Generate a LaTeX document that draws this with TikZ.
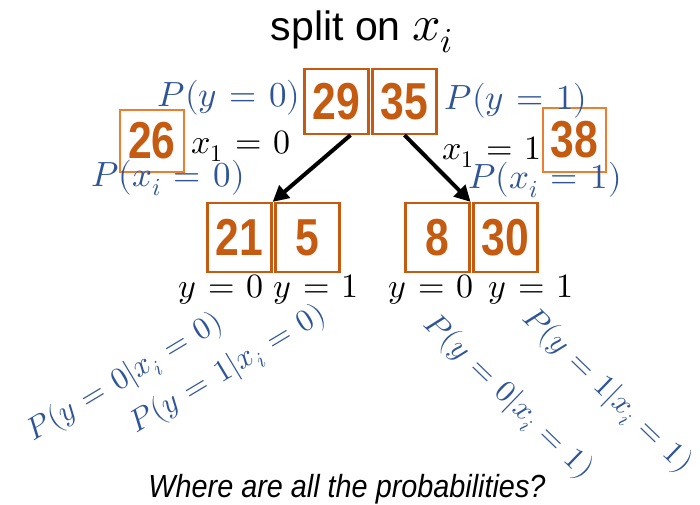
\documentclass[tikz,border=0pt]{standalone}
\usepackage{fontspec}
\usepackage{unicode-math}
\setsansfont{Liberation Sans}
\newfontfamily\narrowsans[FakeStretch=0.82]{Liberation Sans}
\newfontfamily\capsans[FakeStretch=0.9]{Liberation Sans}
\usetikzlibrary{arrows.meta}
\definecolor{blu}{HTML}{2F5597}
\definecolor{org}{HTML}{C55A11}
\definecolor{orgl}{HTML}{ED7D31}
\thickmuskip=6.5mu plus 2mu
\tikzset{
  numbox/.style={draw=org, line width=2.2pt, minimum width=64pt, minimum height=65pt, inner sep=0pt,
    text=org, font=\narrowsans\bfseries\fontsize{52}{58}\selectfont},
  lnumbox/.style={numbox, draw=orgl},
  bluelab/.style={text=blu, inner sep=0pt, font=\fontsize{35}{40}\selectfont},
  rotlab/.style={text=blu, inner sep=0pt, font=\fontsize{31}{36}\selectfont},
  blacklab/.style={text=black, inner sep=0pt, font=\fontsize{34}{40}\selectfont},
  arr/.style={line width=4pt, -{Triangle[length=16pt,width=16pt]}},
}
\begin{document}
\begin{tikzpicture}[x=1pt,y=-1pt]
\useasboundingbox (0,0) rectangle (700,504);
\node[inner sep=0pt, anchor=base, font=\sffamily\fontsize{41}{46}\selectfont] (title) at (362,40) {split on {\fontsize{50}{56}\selectfont$x_i$}};

\node[numbox] (b29) at (336.5,101.5) {29};
\node[numbox] (b35) at (404.5,101.5) {35};
\node[lnumbox, minimum width=64pt, minimum height=62pt] (b26) at (152,141) {26};
\node[lnumbox, minimum width=63pt, minimum height=64pt] (b38) at (574.5,140) {38};

\node[numbox, minimum height=69pt] (b21) at (239.5,237.5) {21};
\node[numbox, minimum height=69pt] (b5) at (307.5,237.5) {5};
\node[numbox, minimum height=69pt] (b8) at (437.5,237.5) {8};
\node[numbox, minimum height=69pt] (b30) at (505.5,237.5) {30};

\node[bluelab] (py0) at (229,98) {$P(y=0)$};
\node[bluelab] (py1) at (516,101) {$P(y=1)$};
\node[blacklab] (x10) at (241,146) {$x_1=0$};
\node[blacklab] (x11) at (492,152) {$x_1=1$};
\node[bluelab] (px0) at (168,178) {$P(x_i=0)$};
\node[bluelab] (px1) at (545,180) {$P(x_i=1)$};

\node[blacklab] (y00) at (221,290) {$y=0$};
\node[blacklab] (y01) at (316,290) {$y=1$};
\node[blacklab] (y10) at (431,290) {$y=0$};
\node[blacklab] (y11) at (531,290) {$y=1$};

\node[rotlab, rotate=31] (c00) at (125,378) {$P(y=0|x_i=0)$};
\node[rotlab, rotate=31] (c10) at (228,370) {$P(y=1|x_i=0)$};
\node[rotlab, rotate=-44] (c01) at (508,397) {$P(y=0|x_i=1)$};
\node[rotlab, rotate=-44] (c11) at (607,391) {$P(y=1|x_i=1)$};

\node[inner sep=0pt, anchor=base, font=\capsans\itshape\fontsize{32}{36}\selectfont] (q) at (347,497) {Where are all the probabilities?};

\draw[arr] ([xshift=14pt]b29.south) -- (b21.north east);
\draw[arr] (b35.south) -- (b8.north east);
\end{tikzpicture}
\end{document}
